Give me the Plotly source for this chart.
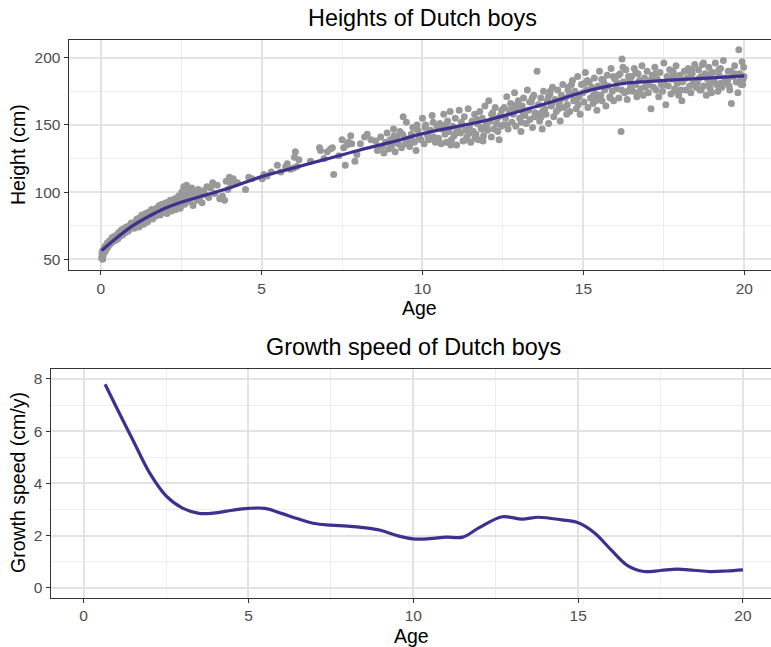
import plotly.graph_objects as go

# ---------------- data: heights of Dutch boys (age in years, height in cm) ----------------
ages_a = [0.03, 0.04, 0.05, 0.06, 0.08, 0.09, 0.10, 0.12, 0.14, 0.16,
          0.18, 0.20, 0.22, 0.25, 0.27, 0.30, 0.32, 0.35, 0.37, 0.40,
          0.42, 0.45, 0.48, 0.50, 0.53, 0.56, 0.59, 0.62, 0.65, 0.68,
          0.71, 0.74, 0.77, 0.80, 0.83, 0.86, 0.89, 0.92, 0.95, 0.98]
heights_a = [51, 54, 56, 50, 53, 57, 55, 59, 56, 60,
             58, 62, 59, 63, 61, 64, 62, 66, 63, 65,
             67, 64, 66, 68, 65, 70, 67, 69, 72, 68,
             71, 73, 70, 74, 72, 71, 75, 73, 77, 74]

ages_b = [1.01, 1.04, 1.07, 1.10, 1.13, 1.16, 1.19, 1.22, 1.25, 1.28,
          1.31, 1.34, 1.37, 1.40, 1.43, 1.46, 1.49, 1.52, 1.55, 1.58,
          1.61, 1.64, 1.67, 1.70, 1.73, 1.76, 1.79, 1.82, 1.85, 1.88,
          1.91, 1.94, 1.97, 2.00, 2.03, 2.06, 2.10, 2.13, 2.16, 2.20,
          2.23, 2.26, 2.30, 2.33, 2.36, 2.39, 2.42, 2.45, 2.47, 2.49]
heights_b = [76, 73, 78, 75, 80, 77, 74, 81, 78, 83,
             79, 76, 82, 84, 80, 78, 85, 81, 83, 87,
             80, 84, 86, 82, 88, 84, 86, 90, 83, 87,
             91, 85, 89, 87, 92, 84, 90, 88, 94, 86,
             91, 89, 95, 87, 93, 90, 97, 91, 88, 96]

ages_c = [2.52, 2.55, 2.58, 2.61, 2.64, 2.67, 2.70, 2.73, 2.76, 2.79,
          2.83, 2.87, 2.91, 2.95, 2.99, 3.03, 3.07, 3.11, 3.15, 3.20,
          3.25, 3.30, 3.36, 3.42, 3.48, 3.55, 3.62, 3.70, 3.78, 3.85,
          3.90, 3.95, 4.00, 4.05, 4.12]
heights_c = [100, 94, 104, 91, 98, 105, 95, 101, 93, 99,
             103, 90, 97, 100, 94, 102, 96, 99, 92, 101,
             98, 104, 96, 103, 107, 99, 105, 95, 97, 94,
             108, 102, 111, 106, 110]

ages_d = [4.25, 4.50, 4.60, 4.70, 5.02, 5.07, 5.17, 5.30, 5.49, 5.60,
          5.75, 5.80, 5.90, 6.00, 6.02, 6.05, 6.10, 6.16, 6.52, 6.80,
          6.83, 6.94, 7.04, 7.14, 7.20, 7.24, 7.40, 7.50, 7.55, 7.60,
          7.65, 7.70, 7.77, 7.80, 7.90, 7.96, 8.07, 8.20, 8.28, 8.40]
heights_d = [107, 102, 111, 110, 110, 113, 112, 115, 120, 115,
             119, 121, 117, 118, 126, 130, 119, 124, 123, 133,
             131, 125, 130, 132, 133, 113, 127, 139, 133, 120,
             135, 137, 142, 136, 123, 128, 136, 141, 143, 139]

ages_e = [8.55, 8.60, 8.70, 8.75, 8.80, 8.85, 8.90, 8.95, 9.00, 9.05,
          9.10, 9.15, 9.20, 9.25, 9.30, 9.35, 9.40, 9.45, 9.50, 9.55,
          9.60, 9.65, 9.70, 9.75, 9.80, 9.85, 9.90, 9.95, 10.00, 10.05,
          10.10, 10.15, 10.20, 10.25, 10.30, 10.35, 10.40, 10.45]
heights_e = [138, 131, 141, 134, 129, 137, 144, 132, 139, 135,
             147, 130, 141, 136, 145, 133, 156, 140, 152, 138,
             134, 143, 148, 137, 131, 146, 141, 139, 155, 136,
             150, 143, 139, 146, 157, 141, 137, 149]

ages_f = [10.50, 10.54, 10.58, 10.62, 10.66, 10.70, 10.74, 10.78, 10.82, 10.86,
          10.90, 10.94, 10.98, 11.02, 11.06, 11.10, 11.14, 11.18, 11.22, 11.26,
          11.30, 11.34, 11.38, 11.42, 11.46, 11.50, 11.54, 11.58, 11.62, 11.66,
          11.70, 11.74, 11.78, 11.82, 11.86, 11.90, 11.94, 11.98, 12.02, 12.06,
          12.10, 12.14, 12.18, 12.22, 12.26, 12.30, 12.34, 12.38, 12.42, 12.46]
heights_f = [140, 151, 136, 147, 158, 143, 137, 153, 145, 160,
             139, 149, 142, 155, 135, 147, 161, 144, 150, 138,
             156, 146, 141, 162, 149, 137, 153, 145, 158, 143,
             151, 139, 160, 148, 155, 142, 164, 150, 146, 168,
             153, 141, 159, 147, 163, 151, 145, 139, 157, 161]

ages_g = [12.50, 12.54, 12.58, 12.62, 12.66, 12.70, 12.74, 12.78, 12.82, 12.86,
          12.90, 12.94, 12.98, 13.02, 13.06, 13.10, 13.14, 13.18, 13.22, 13.26,
          13.30, 13.34, 13.38, 13.42, 13.46, 13.50, 13.56, 13.60, 13.64, 13.68,
          13.72, 13.76, 13.80, 13.84, 13.88, 13.92, 13.96, 14.00, 14.04, 14.08,
          14.12, 14.16, 14.20, 14.24, 14.28, 14.32, 14.36, 14.40, 14.44, 14.48]
heights_g = [150, 163, 155, 171, 147, 160, 166, 152, 158, 174,
             149, 162, 168, 155, 145, 164, 170, 157, 151, 176,
             161, 154, 167, 148, 172, 159, 190, 165, 153, 170,
             147, 175, 162, 158, 168, 151, 173, 164, 178, 156,
             169, 160, 176, 166, 153, 172, 180, 163, 170, 158]

ages_h = [14.50, 14.54, 14.58, 14.62, 14.66, 14.70, 14.74, 14.78, 14.82, 14.86,
          14.90, 14.94, 14.98, 15.02, 15.06, 15.10, 15.14, 15.18, 15.22, 15.26,
          15.30, 15.34, 15.38, 15.42, 15.46, 15.50, 15.54, 15.58, 15.62, 15.66,
          15.70, 15.74, 15.78, 15.82, 15.86, 15.90, 15.94, 15.98, 16.02, 16.06,
          16.10, 16.14, 16.17, 16.20, 16.24, 16.28, 16.32, 16.36, 16.40, 16.46]
heights_h = [165, 178, 160, 172, 183, 168, 175, 162, 186, 171,
             158, 180, 174, 167, 189, 176, 163, 182, 170, 178,
             166, 185, 173, 161, 179, 190, 172, 168, 183, 176,
             164, 187, 179, 171, 192, 175, 168, 184, 177, 181,
             170, 188, 145, 199, 182, 174, 191, 169, 186, 178]

ages_i = [16.50, 16.54, 16.58, 16.62, 16.66, 16.70, 16.74, 16.78, 16.82, 16.86,
          16.90, 16.94, 16.98, 17.02, 17.06, 17.10, 17.14, 17.18, 17.22, 17.26,
          17.30, 17.34, 17.38, 17.42, 17.46, 17.50, 17.56, 17.60, 17.64, 17.68,
          17.72, 17.76, 17.80, 17.84, 17.88, 17.92, 17.96, 18.00, 18.06, 18.10,
          18.14, 18.18, 18.22, 18.26, 18.30, 18.34, 18.38, 18.42, 18.46, 18.50]
heights_i = [186, 175, 192, 180, 171, 188, 183, 177, 194, 172,
             185, 179, 190, 174, 183, 162, 187, 178, 193, 176,
             184, 171, 189, 180, 175, 196, 165, 186, 179, 191,
             173, 184, 188, 177, 194, 181, 172, 187, 168, 183,
             190, 176, 185, 192, 179, 174, 188, 182, 195, 178]

ages_j = [18.54, 18.58, 18.62, 18.66, 18.70, 18.74, 18.78, 18.82, 18.86, 18.90,
          18.94, 18.98, 19.02, 19.06, 19.10, 19.14, 19.18, 19.22, 19.26, 19.30,
          19.35, 19.40, 19.45, 19.50, 19.55, 19.60, 19.65, 19.70, 19.75, 19.80,
          19.83, 19.86, 19.90, 19.93, 19.96, 19.98, 19.99]
heights_j = [181, 191, 176, 186, 195, 179, 188, 172, 184, 193,
             177, 174, 189, 183, 196, 180, 175, 187, 192, 178,
             198, 185, 181, 190, 176, 166, 186, 194, 182, 174,
             206, 188, 180, 197, 184, 193, 186]

# extra scattered measurements in the dense school-age / adolescent range
ages_k = [9.12, 9.47, 9.83, 10.17, 10.56, 10.88, 11.21, 11.47, 11.83, 12.15,
          12.44, 12.73, 13.07, 13.33, 13.62, 13.91, 14.23, 14.52, 14.79, 15.04,
          15.31, 15.57, 15.83, 16.09, 16.38, 16.63, 16.92, 17.19, 17.47, 17.78,
          18.03, 18.33, 18.61, 18.92, 19.21, 19.48, 19.72, 19.95, 10.33, 11.63,
          12.93, 13.73, 14.63, 15.43, 16.23, 17.03, 17.83, 18.73, 19.53, 14.02]
heights_k = [142, 136, 150, 141, 148, 135, 152, 144, 147, 158,
             149, 161, 152, 167, 158, 171, 162, 176, 169, 181,
             172, 184, 170, 187, 175, 189, 178, 184, 181, 190,
             176, 189, 185, 180, 191, 183, 188, 180, 152, 140,
             165, 160, 180, 170, 193, 180, 175, 196, 179, 165]

ages_l = [9.02, 9.38, 9.71, 10.08, 10.41, 10.72, 11.04, 11.36, 11.69, 12.01,
          12.33, 12.61, 12.87, 13.13, 13.41, 13.69, 13.97, 14.27, 14.57, 14.84,
          15.12, 15.39, 15.66, 15.93, 16.19, 16.44, 16.71, 16.97, 17.24, 17.53,
          17.81, 18.08, 18.37, 18.66, 18.96, 19.27, 19.58, 19.88, 11.88, 13.48]
heights_l = [134, 143, 138, 148, 139, 150, 144, 139, 154, 148,
             155, 150, 163, 158, 170, 156, 175, 168, 173, 165,
             183, 168, 180, 186, 176, 184, 174, 181, 188, 180,
             186, 182, 191, 176, 188, 181, 190, 183, 138, 156]

# smoothed height curve
fit_age = [0.03, 0.5, 1.0, 1.5, 2.0, 2.5, 3.0, 4.0, 5.0, 6.0, 7.0, 8.0, 9.0,
           10.0, 11.0, 12.0, 13.0, 14.0, 15.0, 15.7, 16.3, 17.0, 18.0, 19.0, 20.0]
fit_height = [56.5, 66, 75, 82, 88, 92.5, 96, 103, 111.5, 118, 124.5, 131, 137,
              143.5, 148.5, 153.5, 160, 167, 174.5, 178.5, 181, 182.3, 183.8, 185, 186.5]

# growth speed curve
speed_age = [0.65, 1.0, 1.5, 2.0, 2.5, 3.0, 3.5, 4.0, 4.5, 5.0, 5.5, 6.0, 6.5, 7.0,
             7.5, 8.0, 8.5, 9.0, 9.5, 10.0, 10.5, 11.0, 11.5, 12.0, 12.7, 13.3,
             13.8, 14.5, 15.0, 15.5, 16.0, 16.5, 17.0, 17.5, 18.0, 18.5, 19.0, 19.5, 20.0]
speed = [7.8, 6.9, 5.64, 4.4, 3.52, 3.05, 2.85, 2.87, 2.97, 3.04, 3.04, 2.85, 2.64, 2.46,
         2.4, 2.36, 2.3, 2.2, 2.0, 1.87, 1.88, 1.94, 1.94, 2.3, 2.72, 2.63,
         2.7, 2.6, 2.49, 2.1, 1.45, 0.85, 0.62, 0.66, 0.71, 0.67, 0.62, 0.64, 0.68]

ages = (ages_a + ages_b + ages_c + ages_d + ages_e + ages_f + ages_g + ages_h
        + ages_i + ages_j + ages_k + ages_l)
heights = (heights_a + heights_b + heights_c + heights_d + heights_e + heights_f
           + heights_g + heights_h + heights_i + heights_j + heights_k + heights_l)

x_ticks = [0, 5, 10, 15, 20]
height_ticks = [50, 100, 150, 200]
speed_ticks = [0, 2, 4, 6, 8]

# ---------------- styling ----------------
W, H = 771, 647
FONT = "Liberation Sans, Arial, sans-serif"
LINE_COL = "#3F2F8E"
PT_COL = "#999999"
GRID_MAJ = "#E3E3E3"
GRID_MIN = "#EEEEEE"
BORDER = "#333333"
TICK_FONT = dict(family=FONT, size=15.5, color="#4D4D4D")


def px_x(p):
    return p / W


def px_y(p):
    return 1 - p / H


fig = go.Figure()
fig.add_trace(go.Scatter(x=ages, y=heights, mode="markers",
                         marker=dict(color=PT_COL, size=7, line=dict(width=0)),
                         xaxis="x", yaxis="y", hoverinfo="skip", showlegend=False))
fig.add_trace(go.Scatter(x=fit_age, y=fit_height, mode="lines", line_shape="spline",
                         line=dict(color=LINE_COL, width=3.2),
                         xaxis="x", yaxis="y", showlegend=False))
fig.add_trace(go.Scatter(x=speed_age, y=speed, mode="lines", line_shape="spline",
                         line=dict(color=LINE_COL, width=3.2),
                         xaxis="x2", yaxis="y2", showlegend=False))

axis_common = dict(showgrid=True, gridcolor=GRID_MAJ, gridwidth=1.5,
                   zeroline=False, showline=True, linecolor=BORDER, linewidth=1.3,
                   ticks="outside", ticklen=4, tickcolor=BORDER, tickwidth=1.1,
                   tickfont=TICK_FONT, automargin=False,
                   minor=dict(showgrid=True, gridcolor=GRID_MIN, gridwidth=1, ticks=""))

# top panel: x 68.7..771 px, y 40..270 px
fig.update_layout(
    xaxis=dict(domain=[px_x(68.7), 1.0], range=[-0.994, 20.83], anchor="y",
               tickvals=x_ticks, mirror=True, minor_dtick=2.5, minor_tick0=0,
               **axis_common),
    yaxis=dict(domain=[px_y(270), px_y(40)], range=[42.0, 213.2], anchor="x",
               tickvals=height_ticks, mirror=False, minor_dtick=25, minor_tick0=0,
               **axis_common),
    xaxis2=dict(domain=[px_x(50.7), 1.0], range=[-1.0, 20.85], anchor="y2",
                tickvals=x_ticks, mirror=True, minor_dtick=2.5, minor_tick0=0,
                **axis_common),
    yaxis2=dict(domain=[px_y(597.7), px_y(369)], range=[-0.383, 8.383], anchor="x2",
                tickvals=speed_ticks, mirror=False, minor_dtick=1, minor_tick0=0,
                **axis_common),
)

text_font = dict(family=FONT, size=19.5, color="black")
title_font = dict(family=FONT, size=23.4, color="black")
annots = [
    dict(text="Heights of Dutch boys", x=px_x(422), y=px_y(18), font=title_font),
    dict(text="Growth speed of Dutch boys", x=px_x(413.5), y=px_y(347), font=title_font),
    dict(text="Age", x=px_x(420), y=px_y(307.5), font=text_font),
    dict(text="Age", x=px_x(411), y=px_y(635.5), font=text_font),
    dict(text="Height (cm)", x=px_x(18), y=px_y(155), font=text_font, textangle=-90),
    dict(text="Growth speed (cm/y)", x=px_x(18), y=px_y(483), font=text_font, textangle=-90),
]
for a in annots:
    fig.add_annotation(xref="paper", yref="paper", showarrow=False,
                       xanchor="center", yanchor="middle", **a)

fig.update_layout(width=W, height=H, margin=dict(l=0, r=0, t=0, b=0, autoexpand=False),
                  paper_bgcolor="white", plot_bgcolor="white",
                  font=dict(family=FONT), showlegend=False)

fig.write_html("out.html", config={"displayModeBar": False},
               post_script="document.body.style.margin='0';document.body.style.overflow='hidden';")
